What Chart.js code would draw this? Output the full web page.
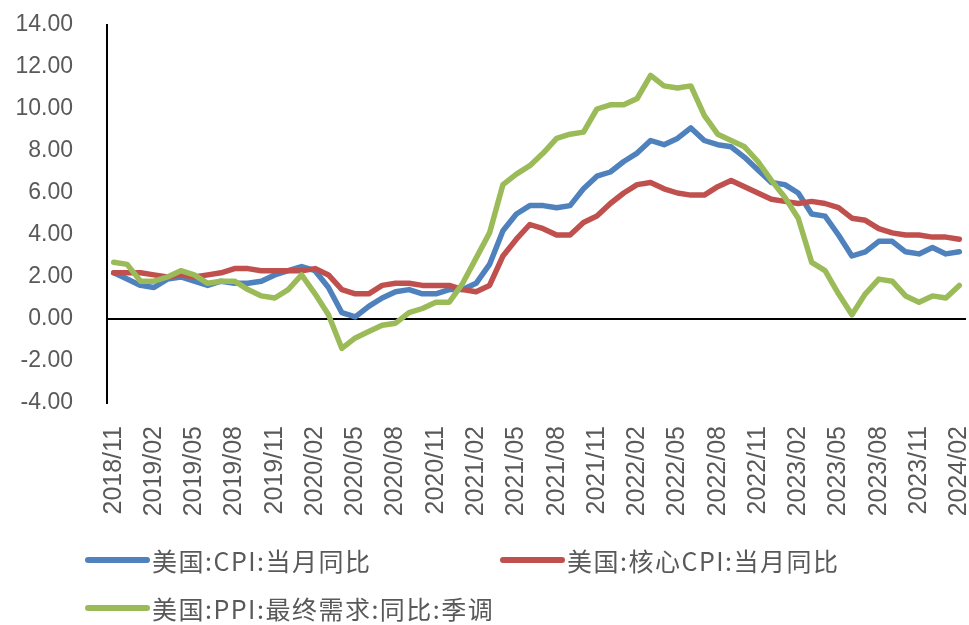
<!DOCTYPE html>
<html>
<head>
<meta charset="utf-8">
<title>美国通胀</title>
<script src="https://cdn.jsdelivr.net/npm/chart.js@4.4.1/dist/chart.umd.min.js"></script>
<style>
  html, body { margin: 0; padding: 0; background: #fff; }
  #wrap { position: relative; width: 969px; height: 625px; }
  #legend {
    position: absolute; left: 85px; top: 536px;
    display: grid; grid-template-columns: 415px 400px; grid-auto-rows: 48px;
    font-family: "Noto Sans CJK SC", sans-serif; font-size: 25px;
    letter-spacing: 1.5px; color: #595959;
  }
  #legend .item { display: flex; align-items: center; white-space: nowrap; }
  #legend .swatch { display: inline-block; width: 65px; height: 6px; border-radius: 3px; margin-right: 2px; }
</style>
</head>
<body>
<div id="wrap">
  <canvas id="cpiChart" width="969" height="625"></canvas>
  <div id="legend"></div>
</div>
<script>
// months, 2018/11 .. 2024/02
const months = [
  "2018/11", "2018/12",
  "2019/01", "2019/02", "2019/03", "2019/04", "2019/05", "2019/06", "2019/07", "2019/08", "2019/09", "2019/10", "2019/11", "2019/12",
  "2020/01", "2020/02", "2020/03", "2020/04", "2020/05", "2020/06", "2020/07", "2020/08", "2020/09", "2020/10", "2020/11", "2020/12",
  "2021/01", "2021/02", "2021/03", "2021/04", "2021/05", "2021/06", "2021/07", "2021/08", "2021/09", "2021/10", "2021/11", "2021/12",
  "2022/01", "2022/02", "2022/03", "2022/04", "2022/05", "2022/06", "2022/07", "2022/08", "2022/09", "2022/10", "2022/11", "2022/12",
  "2023/01", "2023/02", "2023/03", "2023/04", "2023/05", "2023/06", "2023/07", "2023/08", "2023/09", "2023/10", "2023/11", "2023/12",
  "2024/01", "2024/02"
];

const cpiYoY = [
  2.2, 1.9,
  1.6, 1.5, 1.9, 2.0, 1.8, 1.6, 1.8, 1.7, 1.7, 1.8, 2.1, 2.3,
  2.5, 2.3, 1.5, 0.3, 0.1, 0.6, 1.0, 1.3, 1.4, 1.2, 1.2, 1.4,
  1.4, 1.7, 2.6, 4.2, 5.0, 5.4, 5.4, 5.3, 5.4, 6.2, 6.8, 7.0,
  7.5, 7.9, 8.5, 8.3, 8.6, 9.1, 8.5, 8.3, 8.2, 7.7, 7.1, 6.5,
  6.4, 6.0, 5.0, 4.9, 4.0, 3.0, 3.2, 3.7, 3.7, 3.2, 3.1, 3.4,
  3.1, 3.2
];

const coreCpiYoY = [
  2.2, 2.2,
  2.2, 2.1, 2.0, 2.1, 2.0, 2.1, 2.2, 2.4, 2.4, 2.3, 2.3, 2.3,
  2.3, 2.4, 2.1, 1.4, 1.2, 1.2, 1.6, 1.7, 1.7, 1.6, 1.6, 1.6,
  1.4, 1.3, 1.6, 3.0, 3.8, 4.5, 4.3, 4.0, 4.0, 4.6, 4.9, 5.5,
  6.0, 6.4, 6.5, 6.2, 6.0, 5.9, 5.9, 6.3, 6.6, 6.3, 6.0, 5.7,
  5.6, 5.5, 5.6, 5.5, 5.3, 4.8, 4.7, 4.3, 4.1, 4.0, 4.0, 3.9,
  3.9, 3.8
];

const ppiFinalDemandYoY = [
  2.7, 2.6,
  1.8, 1.8, 2.0, 2.3, 2.1, 1.7, 1.8, 1.8, 1.4, 1.1, 1.0, 1.4,
  2.1, 1.2, 0.2, -1.4, -0.9, -0.6, -0.3, -0.2, 0.3, 0.5, 0.8, 0.8,
  1.7, 2.9, 4.1, 6.4, 6.9, 7.3, 7.9, 8.6, 8.8, 8.9, 10.0, 10.2,
  10.2, 10.5, 11.6, 11.1, 11.0, 11.1, 9.7, 8.8, 8.5, 8.2, 7.5, 6.6,
  5.8, 4.8, 2.7, 2.3, 1.2, 0.2, 1.2, 1.9, 1.8, 1.1, 0.8, 1.1,
  1.0, 1.6
];

const yTicks = { min: -4, max: 14, step: 2 };

const seriesNames = ["美国:CPI:当月同比", "美国:核心CPI:当月同比", "美国:PPI:最终需求:同比:季调"];
const seriesColors = ["#4F81BD", "#C0504D", "#9BBB59"];
const seriesValues = [cpiYoY, coreCpiYoY, ppiFinalDemandYoY];

const gray = "#595959";

// keep the plot box fixed: drop the extra room scales reserve for edge labels
function noEdgePadding(scale) {
  scale.paddingTop = 0;
  scale.paddingBottom = 0;
  scale.paddingLeft = 0;
  scale.paddingRight = 0;
}

const ctx = document.getElementById("cpiChart").getContext("2d");
const chart = new Chart(ctx, {
  type: "line",
  data: {
    labels: months,
    datasets: seriesNames.map((name, i) => ({
      label: name,
      data: seriesValues[i],
      borderColor: seriesColors[i],
      backgroundColor: seriesColors[i],
      borderWidth: 5.5,
      pointRadius: 0,
      tension: 0,
      borderCapStyle: "round",
      borderJoinStyle: "round",
      order: i === 0 ? 2 : (i === 1 ? 1 : 0)
    }))
  },
  options: {
    responsive: false,
    animation: false,
    layout: { padding: { top: 25, right: 3, bottom: 0, left: 0 } },
    plugins: {
      legend: { display: false },
      tooltip: { enabled: false }
    },
    scales: {
      x: {
        offset: true,
        grid: { display: false },
        border: { display: false },
        ticks: {
          autoSkip: false,
          minRotation: 90,
          maxRotation: 90,
          padding: 15,
          color: gray,
          font: { family: "'Liberation Sans', sans-serif", size: 25 },
          callback: (v, i) => (i % 3 === 0 ? months[i] : "")
        },
        afterFit: (scale) => { scale.height = 222; noEdgePadding(scale); }
      },
      y: {
        min: yTicks.min,
        max: yTicks.max,
        border: { display: true, color: "#000", width: 2 },
        grid: {
          drawTicks: false,
          color: (c) => (c.tick && c.tick.value === 0 ? "#000" : "rgba(0,0,0,0)"),
          lineWidth: 2
        },
        ticks: {
          stepSize: yTicks.step,
          padding: 34,
          color: gray,
          font: { family: "'Liberation Sans', sans-serif", size: 23 },
          callback: (v) => v.toFixed(2)
        },
        afterFit: (scale) => { scale.width = 107; noEdgePadding(scale); }
      }
    }
  }
});

// legend below the plot, two per row
const legend = document.getElementById("legend");
chart.data.datasets.forEach((ds) => {
  const item = document.createElement("div");
  item.className = "item";
  const sw = document.createElement("span");
  sw.className = "swatch";
  sw.style.background = ds.borderColor;
  const txt = document.createElement("span");
  txt.textContent = ds.label;
  item.appendChild(sw);
  item.appendChild(txt);
  legend.appendChild(item);
});
</script>
</body>
</html>
